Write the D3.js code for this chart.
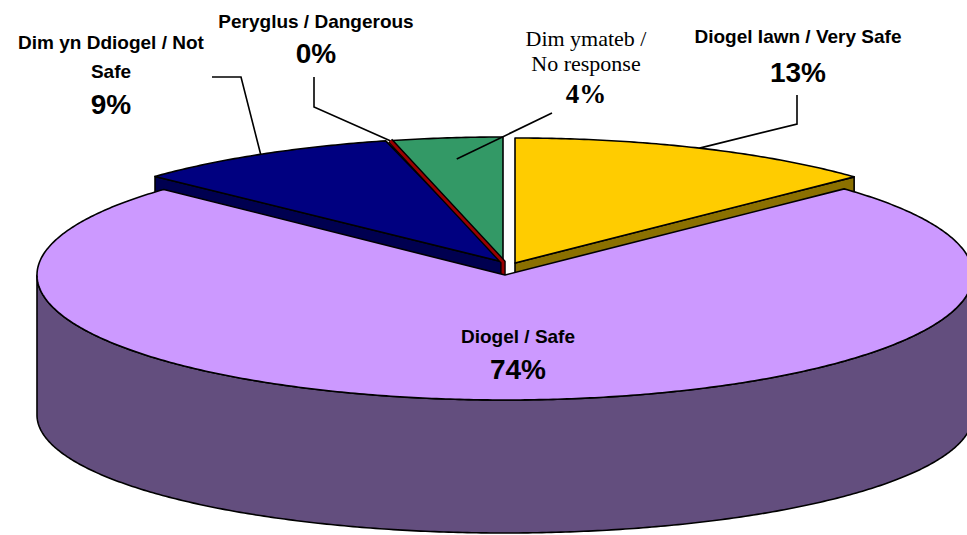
<!DOCTYPE html>
<html>
<head>
<meta charset="utf-8">
<script src="https://cdn.jsdelivr.net/npm/d3@7/dist/d3.min.js"></script>
<style>
  html, body { margin: 0; padding: 0; background: #fff; }
  svg { display: block; }
</style>
</head>
<body>
<svg id="chart" width="967" height="535"></svg>
<script>
// ---- data (clockwise from 12 o'clock) ----
const categories = [
  "Diogel Iawn / Very Safe",
  "Diogel / Safe",
  "Dim yn Ddiogel / Not\nSafe",
  "Peryglus / Dangerous",
  "Dim ymateb /\nNo response"
];
const values = [12.9, 74.1, 9.05, 0.15, 3.8];
const percentLabels = ["13%", "74%", "9%", "0%", "4%"];
const colors = ["#FFCC00", "#CC99FF", "#000080", "#990000", "#339966"];
const sideColors = ["#8B7000", "#634E7E", "#000050", "#5a0000", "#1f5c3d"];

// ---- layout ----
const svg = d3.select("#chart");
const base = { x: 505, y: 265 };
const RX = 468, RY = 125, DEPTH = 140, RY_BOTTOM = 118;
const offsets = [[10, -2], [0, 10], [-2, -3], [-2, -3], [-2, -3]];
const radiusScale = [1, 1, 1.02, 1, 1];

const pie = d3.pie().sort(null).value(d => d).startAngle(0).endAngle(2 * Math.PI);
const arcs = pie(values);

function center(i) { return { x: base.x + offsets[i][0], y: base.y + offsets[i][1] }; }
function pt(i, a, k = 1) {
  const c = center(i);
  return [c.x + RX * radiusScale[i] * k * Math.sin(a), c.y - RY * k * Math.cos(a)];
}
const line = d3.line();
function sectorPath(i) {
  const a = arcs[i], c = center(i);
  const n = Math.max(2, Math.ceil((a.endAngle - a.startAngle) / 0.01));
  const pts = [[c.x, c.y]];
  for (let j = 0; j <= n; j++) pts.push(pt(i, a.startAngle + (a.endAngle - a.startAngle) * j / n));
  return line(pts) + "Z";
}
function bandPath(i, ang) {
  const c = center(i), r = pt(i, ang);
  return line([[c.x, c.y], r, [r[0], r[1] + DEPTH], [c.x, c.y + DEPTH]]) + "Z";
}

const g = svg.append("g").attr("stroke", "#000").attr("stroke-width", 1.6).attr("stroke-linejoin", "round");

// back slices: yellow (0), navy (2), green (4), red (3)
g.append("path").attr("d", bandPath(0, arcs[0].endAngle)).attr("fill", sideColors[0]);
g.append("path").attr("d", sectorPath(0)).attr("fill", colors[0]);
g.append("path").attr("d", bandPath(2, arcs[2].startAngle)).attr("fill", sideColors[2]);
g.append("path").attr("d", sectorPath(2)).attr("fill", colors[2]);
g.append("path").attr("d", sectorPath(4)).attr("fill", colors[4]);

// red (tiny) slice drawn as a strip along its angle
{
  const i = 3, a = (arcs[i].startAngle + arcs[i].endAngle) / 2, c = center(i), r = pt(i, a);
  const strip = line([r, [c.x, c.y], [c.x, c.y + 14]]);
  g.append("path").attr("d", strip).attr("fill", "none").attr("stroke", "#000").attr("stroke-width", 5.5).attr("stroke-linejoin", "miter");
  g.append("path").attr("d", strip).attr("fill", "none").attr("stroke", colors[3]).attr("stroke-width", 2.8).attr("stroke-linejoin", "miter");
}

// purple (1): front wall then top
{
  const i = 1, c = center(i);
  const top = [], bot = [];
  for (let a = Math.PI / 2; a <= 1.5 * Math.PI + 1e-9; a += 0.01) top.push(pt(i, a));
  for (let a = 1.5 * Math.PI; a >= Math.PI / 2 - 1e-9; a -= 0.01)
    bot.push([c.x + RX * Math.sin(a), c.y + DEPTH - RY_BOTTOM * Math.cos(a)]);
  g.append("path").attr("d", line(top.concat(bot)) + "Z").attr("fill", sideColors[1]);
  g.append("path").attr("d", sectorPath(1)).attr("fill", colors[1]);
}

// ---- labels ----
const sans = "'Liberation Sans', Arial, Helvetica, sans-serif";
const serif = "'Liberation Serif', 'Times New Roman', serif";
const labelLayout = [
  { x: 798, lines: [43], pctY: 82, font: sans, weight: "bold", size: 19, pctSize: 28, pctFont: sans,
    leader: [[797, 95], [797, 124]], k: 1 },
  { x: 518, lines: [343], pctY: 379, font: sans, weight: "bold", size: 19, pctSize: 28, pctFont: sans,
    leader: null },
  { x: 111, lines: [49, 78], pctY: 114, font: sans, weight: "bold", size: 19, pctSize: 28, pctFont: sans,
    leader: [[212, 77], [241, 77]], k: 1 },
  { x: 316, lines: [28], pctY: 63, font: sans, weight: "bold", size: 19, pctSize: 28, pctFont: sans,
    leader: [[314, 77], [314, 107]], k: 1 },
  { x: 586, lines: [46, 71], pctY: 103, font: serif, weight: "normal", size: 22, pctSize: 27, pctFont: serif,
    leader: [[552, 113]], k: 0.83 }
];

const lab = svg.append("g").attr("text-anchor", "middle").attr("fill", "#000");
categories.forEach((name, i) => {
  const L = labelLayout[i];
  name.split("\n").forEach((t, j) => {
    lab.append("text").attr("x", L.x).attr("y", L.lines[j])
      .attr("font-family", L.font).attr("font-weight", L.weight).attr("font-size", L.size)
      .text(t);
  });
  lab.append("text").attr("x", L.x).attr("y", L.pctY)
    .attr("font-family", L.pctFont).attr("font-weight", "bold").attr("font-size", L.pctSize)
    .text(percentLabels[i]);
  if (L.leader) {
    const a = (arcs[i].startAngle + arcs[i].endAngle) / 2;
    const end = pt(i, a, L.k);
    svg.append("path").attr("d", line(L.leader.concat([end])))
      .attr("fill", "none").attr("stroke", "#000").attr("stroke-width", 1.6);
  }
});
</script>
</body>
</html>
